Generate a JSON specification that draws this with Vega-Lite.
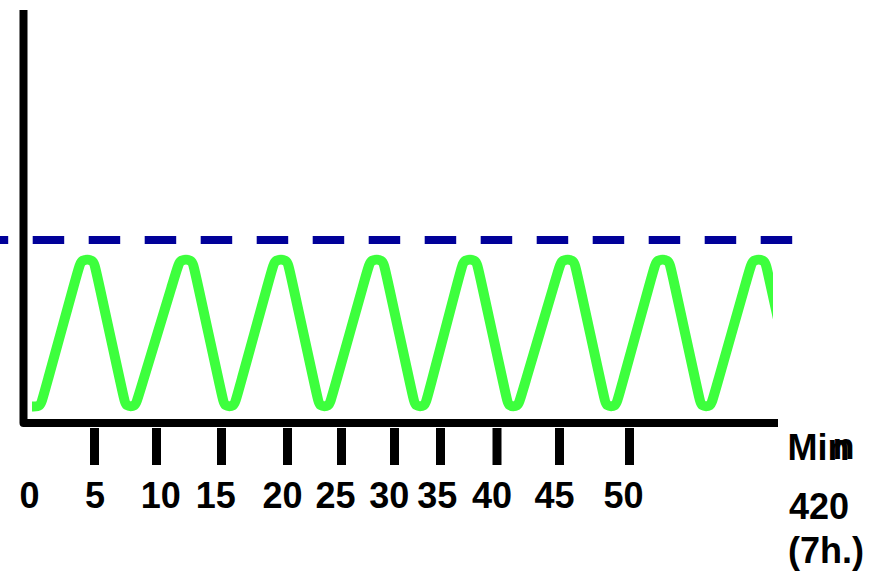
{
  "$schema": "https://vega.github.io/schema/vega-lite/v6.json",
  "width": 773,
  "height": 572,
  "autosize": {"type": "none"},
  "padding": {"left": 0, "top": 0, "right": 111, "bottom": 0},
  "background": "white",
  "config": {"view": {"stroke": null}},
  "datasets": {
    "dash": [
      {"t": -24, "v": 183},
      {"t": 768.7, "v": 183}
    ],
    "wave": [
      {"t": 8.0, "v": 16.5},
      {"t": 16.5, "v": 16.5},
      {"t": 18.6, "v": 24.2},
      {"t": 54.9, "v": 155.8},
      {"t": 57.0, "v": 163.5},
      {"t": 69.6, "v": 163.5},
      {"t": 71.3, "v": 155.8},
      {"t": 100.0, "v": 24.2},
      {"t": 101.7, "v": 16.5},
      {"t": 111.5, "v": 16.5},
      {"t": 113.6, "v": 24.2},
      {"t": 153.6, "v": 155.8},
      {"t": 155.7, "v": 163.5},
      {"t": 168.3, "v": 163.5},
      {"t": 170.0, "v": 155.8},
      {"t": 198.7, "v": 24.2},
      {"t": 200.4, "v": 16.5},
      {"t": 210.2, "v": 16.5},
      {"t": 212.3, "v": 24.2},
      {"t": 248.6, "v": 155.8},
      {"t": 250.7, "v": 163.5},
      {"t": 263.3, "v": 163.5},
      {"t": 265.0, "v": 155.8},
      {"t": 293.7, "v": 24.2},
      {"t": 295.4, "v": 16.5},
      {"t": 305.2, "v": 16.5},
      {"t": 307.3, "v": 24.2},
      {"t": 344.3, "v": 155.8},
      {"t": 346.4, "v": 163.5},
      {"t": 359.0, "v": 163.5},
      {"t": 360.7, "v": 155.8},
      {"t": 389.4, "v": 24.2},
      {"t": 391.1, "v": 16.5},
      {"t": 400.9, "v": 16.5},
      {"t": 403.0, "v": 24.2},
      {"t": 437.6, "v": 155.8},
      {"t": 439.7, "v": 163.5},
      {"t": 452.3, "v": 163.5},
      {"t": 454.0, "v": 155.8},
      {"t": 482.7, "v": 24.2},
      {"t": 484.4, "v": 16.5},
      {"t": 494.2, "v": 16.5},
      {"t": 496.3, "v": 24.2},
      {"t": 535.3, "v": 155.8},
      {"t": 537.4, "v": 163.5},
      {"t": 550.0, "v": 163.5},
      {"t": 551.7, "v": 155.8},
      {"t": 580.4, "v": 24.2},
      {"t": 582.1, "v": 16.5},
      {"t": 591.9, "v": 16.5},
      {"t": 594.0, "v": 24.2},
      {"t": 630.3, "v": 155.8},
      {"t": 632.4, "v": 163.5},
      {"t": 645.0, "v": 163.5},
      {"t": 646.7, "v": 155.8},
      {"t": 675.4, "v": 24.2},
      {"t": 677.1, "v": 16.5},
      {"t": 686.9, "v": 16.5},
      {"t": 689.0, "v": 24.2},
      {"t": 726.3, "v": 155.8},
      {"t": 728.4, "v": 163.5},
      {"t": 741.0, "v": 163.5},
      {"t": 742.7, "v": 155.8},
      {"t": 771.4, "v": 24.2},
      {"t": 773.1, "v": 16.5}
    ],
    "axes": [
      {"t": -0.5, "v": 413, "o": 1},
      {"t": -0.5, "v": 0, "o": 2},
      {"t": 754, "v": 0, "o": 3}
    ],
    "ticks": [
      {"t": 70.5, "v": -5, "v2": -42},
      {"t": 132.5, "v": -5, "v2": -42},
      {"t": 197.5, "v": -5, "v2": -42},
      {"t": 263.5, "v": -5, "v2": -42},
      {"t": 317.5, "v": -5, "v2": -42},
      {"t": 370.5, "v": -5, "v2": -42},
      {"t": 416.5, "v": -5, "v2": -42},
      {"t": 473, "v": -5, "v2": -42},
      {"t": 535.5, "v": -5, "v2": -42},
      {"t": 605.5, "v": -5, "v2": -42}
    ],
    "labels": [
      {"t": 5.5, "v": -85, "label": "0"},
      {"t": 71, "v": -85, "label": "5"},
      {"t": 136.7, "v": -85, "label": "10"},
      {"t": 191.7, "v": -85, "label": "15"},
      {"t": 258.5, "v": -85, "label": "20"},
      {"t": 311.5, "v": -85, "label": "25"},
      {"t": 365.2, "v": -85, "label": "30"},
      {"t": 413.2, "v": -85, "label": "35"},
      {"t": 468, "v": -85, "label": "40"},
      {"t": 530.5, "v": -85, "label": "45"},
      {"t": 599.5, "v": -85, "label": "50"}
    ],
    "side": [
      {"t": 763.5, "v": -37, "label": "Min"},
      {"t": 808.5, "v": -36, "label": "n"},
      {"t": 765, "v": -96, "label": "420"},
      {"t": 764, "v": -140, "label": "(7h.)"}
    ]
  },
  "layer": [
    {
      "data": {"name": "dash"},
      "mark": {"type": "line", "stroke": "#000099", "strokeWidth": 8, "strokeDash": [31.5, 24.5], "strokeDashOffset": 23.3, "strokeCap": "butt"},
      "encoding": {
        "x": {"field": "t", "type": "quantitative", "scale": {"domain": [-24, 749], "nice": false, "zero": false}, "axis": null},
        "y": {"field": "v", "type": "quantitative", "scale": {"domain": [-149, 423], "nice": false, "zero": false}, "axis": null}
      }
    },
    {
      "data": {"name": "wave"},
      "mark": {"type": "line", "interpolate": "basis", "stroke": "#3dff3d", "strokeWidth": 10, "strokeCap": "butt", "clip": true},
      "encoding": {
        "x": {"field": "t", "type": "quantitative", "scale": {"domain": [-24, 749], "nice": false, "zero": false}, "axis": null},
        "y": {"field": "v", "type": "quantitative", "scale": {"domain": [-149, 423], "nice": false, "zero": false}, "axis": null}
      }
    },
    {
      "data": {"name": "axes"},
      "mark": {"type": "line", "stroke": "black", "strokeWidth": 8, "strokeJoin": "round", "strokeCap": "butt"},
      "encoding": {
        "x": {"field": "t", "type": "quantitative", "scale": {"domain": [-24, 749], "nice": false, "zero": false}, "axis": null},
        "y": {"field": "v", "type": "quantitative", "scale": {"domain": [-149, 423], "nice": false, "zero": false}, "axis": null},
        "order": {"field": "o", "type": "quantitative"}
      }
    },
    {
      "data": {"name": "ticks"},
      "mark": {"type": "rule", "stroke": "black", "strokeWidth": 9, "strokeCap": "butt"},
      "encoding": {
        "x": {"field": "t", "type": "quantitative", "scale": {"domain": [-24, 749], "nice": false, "zero": false}, "axis": null},
        "y": {"field": "v", "type": "quantitative", "scale": {"domain": [-149, 423], "nice": false, "zero": false}, "axis": null},
        "y2": {"field": "v2"}
      }
    },
    {
      "data": {"name": "labels"},
      "mark": {"type": "text", "font": "Liberation Sans", "fontWeight": "bold", "fontSize": 36, "align": "center", "baseline": "alphabetic", "color": "black"},
      "encoding": {
        "x": {"field": "t", "type": "quantitative", "scale": {"domain": [-24, 749], "nice": false, "zero": false}, "axis": null},
        "y": {"field": "v", "type": "quantitative", "scale": {"domain": [-149, 423], "nice": false, "zero": false}, "axis": null},
        "text": {"field": "label", "type": "nominal"}
      }
    },
    {
      "data": {"name": "side"},
      "mark": {"type": "text", "font": "Liberation Sans", "fontWeight": "bold", "fontSize": 36, "align": "left", "baseline": "alphabetic", "color": "black"},
      "encoding": {
        "x": {"field": "t", "type": "quantitative", "scale": {"domain": [-24, 749], "nice": false, "zero": false}, "axis": null},
        "y": {"field": "v", "type": "quantitative", "scale": {"domain": [-149, 423], "nice": false, "zero": false}, "axis": null},
        "text": {"field": "label", "type": "nominal"}
      }
    }
  ]
}
